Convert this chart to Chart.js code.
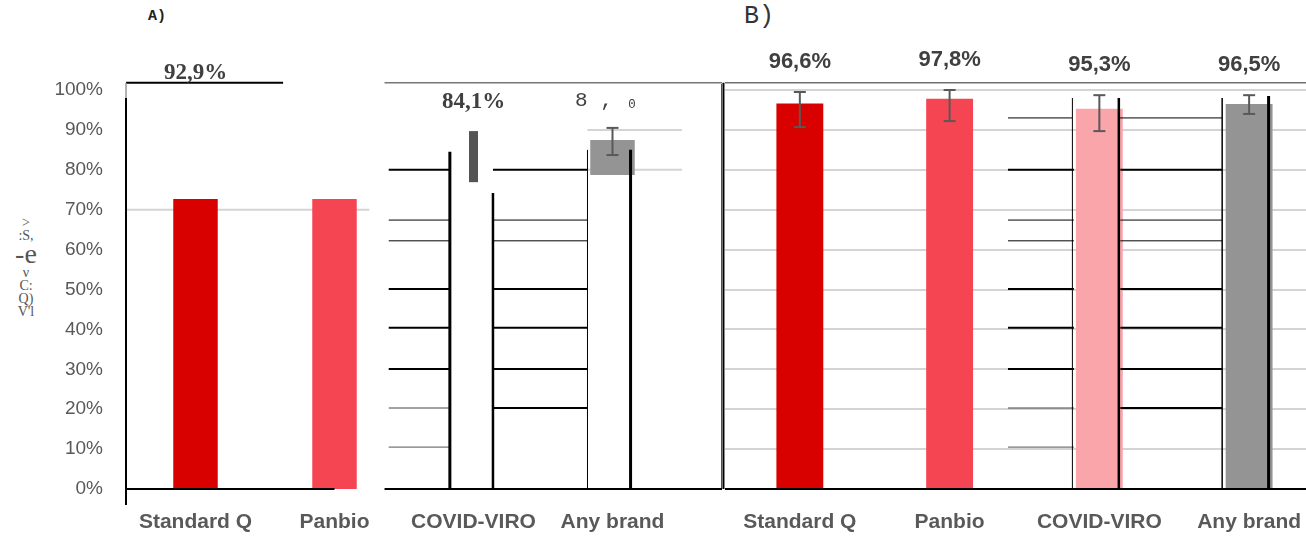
<!DOCTYPE html>
<html>
<head>
<meta charset="utf-8">
<script src="https://cdn.jsdelivr.net/npm/chart.js@4.4.1/dist/chart.umd.min.js"></script>
<style>
  html, body { margin: 0; padding: 0; background: #fff; overflow: hidden; width: 1306px; height: 540px; }
  #wrapA { position: absolute; left: 0; top: 0; width: 722px; height: 540px; }
  #wrapB { position: absolute; left: 722px; top: 0; width: 610px; height: 540px; }
  .tag { position: absolute; color: #222; }
  #tagA { left: 148px; top: 8px; font: bold 15px "Liberation Mono", monospace; }
  #tagB { left: 744px; top: 2px; font: 25px "Liberation Mono", monospace; color: #333; }
  #ytitle { position: absolute; left: 12px; top: 216px; width: 28px; text-align: center;
            font: 14px "Liberation Serif", serif; color: #555; line-height: 13px; }
  #ytitle .big { font-size: 28px; line-height: 24px; }
</style>
</head>
<body>
<div id="tagA" class="tag">A)</div>
<div id="tagB" class="tag">B)</div>
<div id="ytitle">&gt;<br>:S,<br><span class="big">-e</span><br>ν<br>C:<br>Q)<br>V'l</div>
<div id="wrapA"><canvas id="chartA"></canvas></div>
<div id="wrapB"><canvas id="chartB"></canvas></div>
<script>
const categories = ['Standard Q', 'Panbio', 'COVID-VIRO', 'Any brand'];
const yTicks = [0, 10, 20, 30, 40, 50, 60, 70, 80, 90, 100];

// panel A (as printed, partly broken)
const panelAValues = [72.7, 72.7, null, [78.7, 87.5]];
const panelASliver = [null, null, [76.9, 89.7], null];
const panelAErrLow = [null, null, null, 83.7];
const panelAErrHigh = [null, null, null, 90.5];
const panelALabels = ['92,9%', null, '84,1%', '8 , \u2080'];
const panelALabelAt = [104.3, null, 96.9, 97.4];

// panel B
const panelBValues = [96.6, 97.8, 95.3, 96.5];
const panelBErrLow = [90.7, 92.2, 89.7, 94.0];
const panelBErrHigh = [99.5, 100, 98.7, 98.7];
const panelBLabels = ['96,6%', '97,8%', '95,3%', '96,5%'];

const colorsA = ['#d90000', '#f54552', '#555555', '#949494'];
const colorsB = ['#d90000', '#f54552', '#f9a5aa', '#949494'];

// stray print lines: [yValue, fromIndex, toIndex, width, colour]
const strayH = [
  [80, 1.39, 1.83, 2, '#000'], [80, 2.14, 2.82, 2, '#000'],
  [67.4, 1.39, 1.83, 1, '#000'], [67.4, 2.14, 2.82, 1, '#000'],
  [62.2, 1.39, 1.83, 1, '#000'], [62.2, 2.14, 2.82, 1, '#000'],
  [50.1, 1.39, 1.83, 2, '#000'], [50.1, 2.14, 2.82, 2, '#000'],
  [40.4, 1.39, 1.83, 2, '#000'], [40.4, 2.14, 2.82, 2, '#000'],
  [30.1, 1.39, 1.83, 2, '#000'], [30.1, 2.14, 2.82, 2, '#000'],
  [20.3, 1.39, 1.83, 1, '#444'], [20.3, 2.14, 2.82, 2, '#000'],
  [10.5, 1.39, 1.83, 1, '#555']
];

function drawLine(ctx, x0, y0, x1, y1, w, c) {
  ctx.save();
  ctx.strokeStyle = c;
  ctx.lineWidth = w;
  ctx.beginPath();
  ctx.moveTo(x0, y0);
  ctx.lineTo(x1, y1);
  ctx.stroke();
  ctx.restore();
}

const errorBars = {
  id: 'errorBars',
  afterDatasetsDraw(chart, args, opts) {
    const { ctx, scales: { x, y } } = chart;
    opts.low.forEach((lo, i) => {
      if (lo == null) return;
      const cx = x.getPixelForValue(i);
      const y0 = y.getPixelForValue(lo);
      const y1 = y.getPixelForValue(opts.high[i]);
      drawLine(ctx, cx, y0, cx, y1, 2, '#595959');
      drawLine(ctx, cx - 6, y0, cx + 6, y0, 2, '#595959');
      drawLine(ctx, cx - 6, y1, cx + 6, y1, 2, '#595959');
    });
  }
};

const strayLines = {
  id: 'strayLines',
  beforeDatasetsDraw(chart, args, opts) {
    const { ctx, scales: { x, y } } = chart;
    const px = v => x.getPixelForValue(v);
    const py = v => y.getPixelForValue(v);
    opts.under.forEach(([a, v0, b, v1, w, c]) => drawLine(ctx, px(a), py(v0), px(b), py(v1), w, c));
  },
  afterDatasetsDraw(chart, args, opts) {
    const { ctx, scales: { x, y } } = chart;
    const px = v => x.getPixelForValue(v);
    const py = v => y.getPixelForValue(v);
    strayH.forEach(([v, a, b, w, c]) => drawLine(ctx, px(a), py(v), px(b), py(v), w, c));
    opts.vertical.forEach(([i, top, w]) => drawLine(ctx, px(i), py(top), px(i), py(0), w, '#000'));
    opts.extra.forEach(([a, v0, b, v1, w, c]) => drawLine(ctx, px(a), py(v0), px(b), py(v1), w, c));
  }
};

const valueLabels = {
  id: 'valueLabels',
  afterDraw(chart, args, opts) {
    const { ctx, scales: { x, y } } = chart;
    ctx.save();
    ctx.textAlign = 'center';
    ctx.textBaseline = 'middle';
    ctx.fillStyle = '#404040';
    opts.text.forEach((t, i) => {
      if (!t) return;
      ctx.font = opts.font[i];
      const cy = opts.at ? y.getPixelForValue(opts.at[i]) : y.getPixelForValue(opts.high[i]) - 30;
      ctx.fillText(t, x.getPixelForValue(i) + (opts.shift ? opts.shift[i] : 0), cy);
    });
    ctx.restore();
  }
};

function baseScales(showY) {
  return {
    x: {
      grid: { display: false, drawTicks: false },
      border: { display: false },
      ticks: { color: '#595959', padding: 21, font: { family: 'Liberation Sans', size: 21, weight: 'bold' } },
      afterFit(s) { s.height = 51; }
    },
    y: {
      min: 0, max: 100,
      afterBuildTicks(s) { s.ticks = yTicks.map(v => ({ value: v })); },
      border: { display: false },
      grid: showY ? { display: false, drawTicks: false } : { color: '#d4d4d4', lineWidth: 2, drawTicks: false },
      ticks: {
        display: showY, padding: 23, color: '#595959',
        font: { family: 'Liberation Sans', size: 19 },
        callback: v => v + '%'
      },
      afterFit(s) { s.width = showY ? 126 : 2; }
    }
  };
}

new Chart(document.getElementById('chartA'), {
  type: 'bar',
  data: {
    labels: categories,
    datasets: [
      { data: panelAValues, backgroundColor: colorsA, barPercentage: 0.32, categoryPercentage: 1, grouped: false },
      { data: panelASliver, backgroundColor: '#555555', barPercentage: 0.065, categoryPercentage: 1, grouped: false }
    ]
  },
  options: {
    responsive: true, maintainAspectRatio: false, animation: false,
    layout: { padding: { top: 90, right: 40, left: 0, bottom: 0 } },
    plugins: {
      legend: { display: false }, tooltip: { enabled: false },
      errorBars: { low: panelAErrLow, high: panelAErrHigh },
      strayLines: {
        under: [
          [-0.5, 70, 1.25, 70, 2, '#d4d4d4'],
          [2.82, 90, 3.5, 90, 2, '#d4d4d4'], [2.82, 80, 3.5, 80, 2, '#d4d4d4']
        ],
        vertical: [[1.83, 84.5, 3], [2.14, 74.2, 2.5], [2.82, 85, 1], [3.13, 85, 3], [3.79, 101.5, 2]],
        extra: [
          [-0.5, 101.8, 0.63, 101.8, 2, '#000'], [1.36, 101.8, 3.79, 101.8, 1.5, '#777'],
          [-0.5, 101.8, -0.5, 98, 1.5, '#999'], [-0.5, 98, -0.5, -4, 2, '#000'],
          [-0.5, 0, 1.0, 0, 2, '#000'], [1.36, 0, 3.79, 0, 2, '#000']
        ]
      },
      valueLabels: {
        text: panelALabels, at: panelALabelAt, shift: [0, 0, 0, -6],
        font: ['bold 23px "Liberation Serif"', '', 'bold 23px "Liberation Serif"', '21px "Liberation Mono"']
      }
    },
    scales: baseScales(true)
  },
  plugins: [strayLines, errorBars, valueLabels]
});

new Chart(document.getElementById('chartB'), {
  type: 'bar',
  data: {
    labels: categories,
    datasets: [
      { data: panelBValues, backgroundColor: colorsB, barPercentage: 0.313, categoryPercentage: 1 }
    ]
  },
  options: {
    responsive: true, maintainAspectRatio: false, animation: false,
    layout: { padding: { top: 90, right: 8, left: 0, bottom: 0 } },
    plugins: {
      legend: { display: false }, tooltip: { enabled: false },
      errorBars: { low: panelBErrLow, high: panelBErrHigh },
      strayLines: {
        under: [],
        vertical: [[1.82, 98, 1], [2.13, 98, 2.5], [2.82, 98, 1.5], [3.13, 98.5, 3]],
        extra: [
          [1.39, 93, 1.82, 93, 1, '#000'], [2.13, 93, 2.82, 93, 1, '#000'],
          [-0.5, 101.8, 3.9, 101.8, 1.5, '#707070'],
          [-0.51, 101.8, -0.51, 0, 2, '#000'],
          [-0.5, 0, 3.9, 0, 2, '#000']
        ]
      },
      valueLabels: {
        text: panelBLabels, high: panelBErrHigh,
        font: Array(4).fill('bold 22px "Liberation Sans"')
      }
    },
    scales: baseScales(false)
  },
  plugins: [strayLines, errorBars, valueLabels]
});
</script>
</body>
</html>
